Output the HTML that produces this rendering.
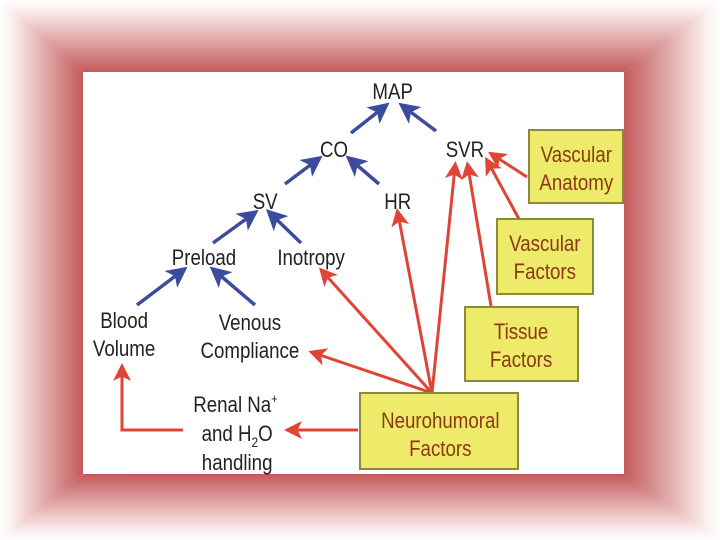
<!DOCTYPE html>
<html><head><style>
html,body{margin:0;padding:0;background:#fff;}
body{width:720px;height:540px;position:relative;overflow:hidden;}
svg{position:absolute;left:0;top:0;}
text{font-family:"Liberation Sans",sans-serif;font-size:22px;}
</style></head><body>
<svg width="720" height="540" viewBox="0 0 720 540">
<defs>
<linearGradient id="gt" x1="0" y1="0" x2="0" y2="72" gradientUnits="userSpaceOnUse"><stop offset="0" stop-color="#fff"/><stop offset="0.15" stop-color="#fbeeee"/><stop offset="1" stop-color="#c45a5a"/></linearGradient>
<linearGradient id="gb" x1="0" y1="540" x2="0" y2="474" gradientUnits="userSpaceOnUse"><stop offset="0" stop-color="#fff"/><stop offset="0.15" stop-color="#fbeeee"/><stop offset="1" stop-color="#c45a5a"/></linearGradient>
<linearGradient id="gl" x1="0" y1="0" x2="83" y2="0" gradientUnits="userSpaceOnUse"><stop offset="0" stop-color="#fff"/><stop offset="0.15" stop-color="#fbeeee"/><stop offset="1" stop-color="#c45a5a"/></linearGradient>
<linearGradient id="gr" x1="720" y1="0" x2="624" y2="0" gradientUnits="userSpaceOnUse"><stop offset="0" stop-color="#fff"/><stop offset="0.15" stop-color="#fbeeee"/><stop offset="1" stop-color="#c45a5a"/></linearGradient>
<marker id="b" markerWidth="6" markerHeight="6" refX="4" refY="3" orient="auto" markerUnits="strokeWidth"><path d="M0,0 L6,3 L0,6 L1.5,3z" fill="#3c4c9c"/></marker>
<marker id="r" markerWidth="6" markerHeight="6" refX="4" refY="3" orient="auto" markerUnits="strokeWidth"><path d="M0,0 L6,3 L0,6 L1.5,3z" fill="#e04434"/></marker>
</defs>
<polygon points="0,0 720,0 624,72 83,72" fill="url(#gt)"/>
<polygon points="0,540 720,540 624,474 83,474" fill="url(#gb)"/>
<polygon points="0,0 83,72 83,474 0,540" fill="url(#gl)"/>
<polygon points="720,0 624,72 624,474 720,540" fill="url(#gr)"/>
<rect x="83" y="72" width="541" height="402" fill="#fff"/>
<g stroke="#3c4c9c" stroke-width="3.5" marker-end="url(#b)">
<line x1="351" y1="133" x2="384" y2="107"/>
<line x1="436" y1="131" x2="404" y2="107"/>
<line x1="285" y1="184" x2="317" y2="160"/>
<line x1="379" y1="184" x2="351" y2="160"/>
<line x1="213" y1="243" x2="253" y2="214"/>
<line x1="301" y1="243" x2="271" y2="214"/>
<line x1="137" y1="305" x2="182" y2="271"/>
<line x1="255" y1="305" x2="215" y2="271"/>
</g>
<g stroke="#e04434" stroke-width="3" fill="none" marker-end="url(#r)">
<line x1="432" y1="393" x2="323" y2="272"/>
<line x1="432" y1="393" x2="314" y2="353"/>
<line x1="432" y1="393" x2="398" y2="214"/>
<line x1="432" y1="393" x2="455" y2="167"/>
<line x1="491" y1="306" x2="468" y2="167"/>
<line x1="519" y1="219" x2="488" y2="162"/>
<line x1="527" y1="177" x2="493" y2="155"/>
<line x1="358" y1="430" x2="290" y2="430"/>
<polyline points="183,430 122,430 122,369"/>
</g>
<g fill="#eeea6a" stroke="#8a8a3a" stroke-width="2">
<rect x="529" y="130" width="94" height="73"/>
<rect x="497" y="219" width="96" height="75"/>
<rect x="465" y="307" width="113" height="74"/>
<rect x="360" y="393" width="158" height="76"/>
</g>
<g transform="scale(0.85,1)" fill="#222" text-anchor="middle">
<text x="462" y="99">MAP</text>
<text x="393" y="157">CO</text>
<text x="547" y="157">SVR</text>
<text x="312" y="209">SV</text>
<text x="468" y="209">HR</text>
<text x="240" y="265">Preload</text>
<text x="366" y="265">Inotropy</text>
<text x="146" y="328">Blood</text>
<text x="146" y="356">Volume</text>
<text x="294" y="330">Venous</text>
<text x="294" y="358">Compliance</text>
<text x="277" y="412">Renal Na<tspan font-size="13" dy="-9">+</tspan></text>
<text x="279" y="441">and H<tspan font-size="14" dy="6">2</tspan><tspan dy="-6">O</tspan></text>
<text x="279" y="470">handling</text>
</g>
<g transform="scale(0.85,1)" fill="#8a3a10" text-anchor="middle">
<text x="678" y="162">Vascular</text>
<text x="678" y="190">Anatomy</text>
<text x="641" y="251">Vascular</text>
<text x="641" y="279">Factors</text>
<text x="613" y="339">Tissue</text>
<text x="613" y="367">Factors</text>
<text x="518" y="428">Neurohumoral</text>
<text x="518" y="456">Factors</text>
</g>
</svg>
</body></html>
